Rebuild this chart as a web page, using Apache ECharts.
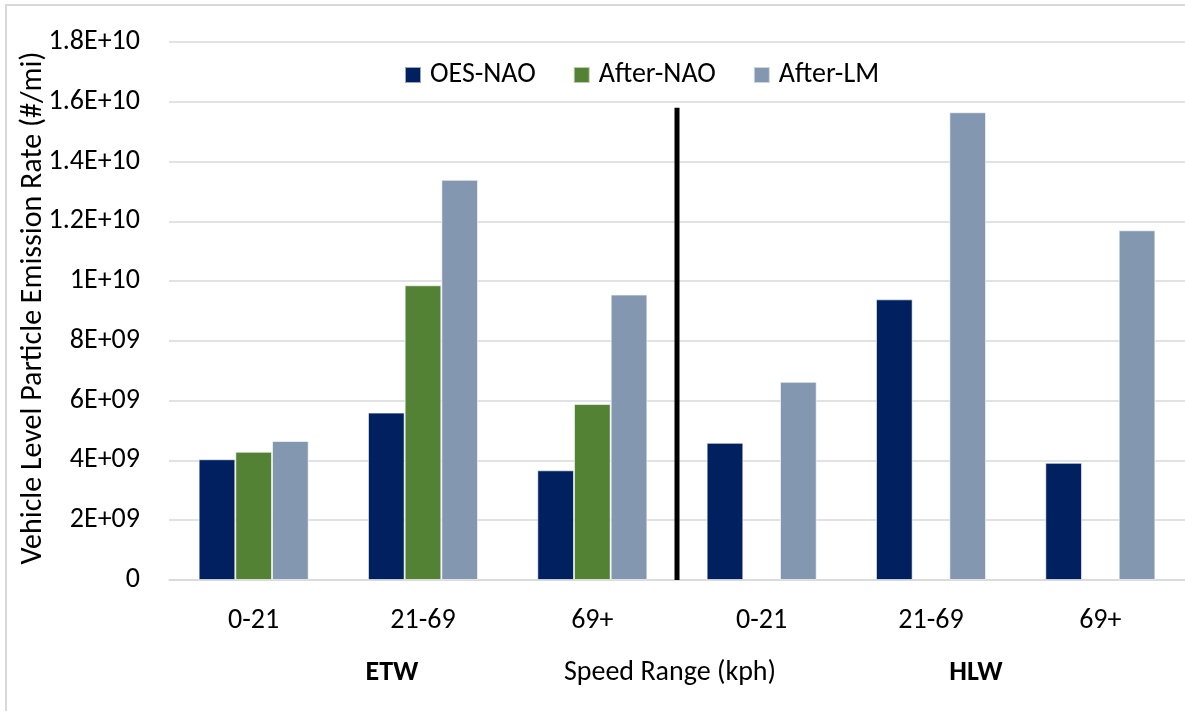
<!DOCTYPE html>
<html>
<head>
<meta charset="utf-8">
<script src="https://cdn.jsdelivr.net/npm/echarts@6/dist/echarts.min.js"></script>
<style>
html,body{margin:0;padding:0;background:#fff;}
#chart{width:1185px;height:711px;}
</style>
</head>
<body>
<div id="chart"></div>
<script>
// ---- data ----
const speedRanges = ['0-21', '21-69', '69+'];
const groups = ['ETW', 'HLW'];
const categories = groups.flatMap(g => speedRanges.map(s => g + '|' + s));
const seriesNames = ['OES-NAO', 'After-NAO', 'After-LM'];
const oesNao   = [4.04e9, 5.60e9, 3.67e9, 4.59e9, 9.39e9, 3.92e9];
const afterNao = [4.29e9, 9.86e9, 5.89e9, null, null, null];
const afterLm  = [4.65e9, 13.39e9, 9.55e9, 6.63e9, 15.65e9, 11.70e9];
const yTickLabels = ['0', '2E+09', '4E+09', '6E+09', '8E+09', '1E+10', '1.2E+10', '1.4E+10', '1.6E+10', '1.8E+10'];
const yTitle = 'Vehicle Level Particle Emission Rate (#/mi)';
const xTitle = 'Speed Range (kph)';
const dividerX = 3;          // boundary between ETW and HLW groups (category units)
const dividerTop = 1.58e10;

// ---- style ----
const FONT = 'Carlito, "Liberation Sans", Arial, sans-serif';
const colors = ['#002060', '#548235', '#8497B0'];

const chart = echarts.init(document.getElementById('chart'));
const barSeries = [oesNao, afterNao, afterLm].map((d, i) => ({
  name: seriesNames[i],
  type: 'bar',
  data: d,
  barGap: '0%',
  barCategoryGap: '35%',
  itemStyle: { color: colors[i], borderColor: 'rgba(255,255,255,0.6)', borderWidth: 1 },
  xAxisIndex: 0
}));

chart.setOption({
  animation: false,
  backgroundColor: '#ffffff',
  textStyle: { fontFamily: FONT },
  legend: {
    data: seriesNames,
    left: 404,
    top: 61,
    padding: 0,
    itemWidth: 16,
    itemHeight: 16,
    itemGap: 37,
    icon: 'rect',
    textStyle: { fontFamily: FONT, fontSize: 28, color: '#000', padding: [0, 0, 0, 4] }
  },
  grid: { left: 169, top: 42, width: 1022, height: 538, containLabel: false },
  xAxis: [{
    type: 'category',
    data: categories,
    axisLine: { show: true, lineStyle: { color: '#d9d9d9', width: 1.5 } },
    axisTick: { show: false },
    axisLabel: {
      formatter: v => v.split('|')[1],
      fontFamily: FONT, fontSize: 28, color: '#000', margin: 27
    }
  }, {
    type: 'value', min: 0, max: 6, show: false
  }],
  yAxis: {
    type: 'value',
    min: 0, max: 1.8e10, interval: 2e9,
    axisLine: { show: false },
    axisTick: { show: false },
    splitLine: { lineStyle: { color: '#d9d9d9', width: 1.5 } },
    axisLabel: {
      formatter: v => yTickLabels[Math.round(v / 2e9)],
      fontFamily: FONT, fontSize: 28, color: '#000', margin: 29
    }
  },
  series: barSeries.concat([{
    name: 'divider',
    type: 'line',
    xAxisIndex: 1,
    data: [[dividerX, 0], [dividerX, dividerTop]],
    symbol: 'none',
    lineStyle: { color: '#000', width: 5 },
    silent: true
  }]),
  graphic: [
    { type: 'rect', shape: { x: 6, y: 5, width: 1240, height: 760 }, style: { fill: 'none', stroke: '#d9d9d9', lineWidth: 2 }, silent: true },
    { type: 'text', x: 33, y: 308, rotation: Math.PI / 2,
      style: { text: yTitle, font: '30px ' + FONT, fill: '#000', textAlign: 'center', textVerticalAlign: 'middle' } },
    { type: 'text', x: 392, y: 673,
      style: { text: groups[0], font: 'bold 28px ' + FONT, fill: '#000', textAlign: 'center', textVerticalAlign: 'middle' } },
    { type: 'text', x: 670, y: 673,
      style: { text: xTitle, font: '28px ' + FONT, fill: '#000', textAlign: 'center', textVerticalAlign: 'middle' } },
    { type: 'text', x: 976, y: 673,
      style: { text: groups[1], font: 'bold 28px ' + FONT, fill: '#000', textAlign: 'center', textVerticalAlign: 'middle' } }
  ]
});
</script>
</body>
</html>
